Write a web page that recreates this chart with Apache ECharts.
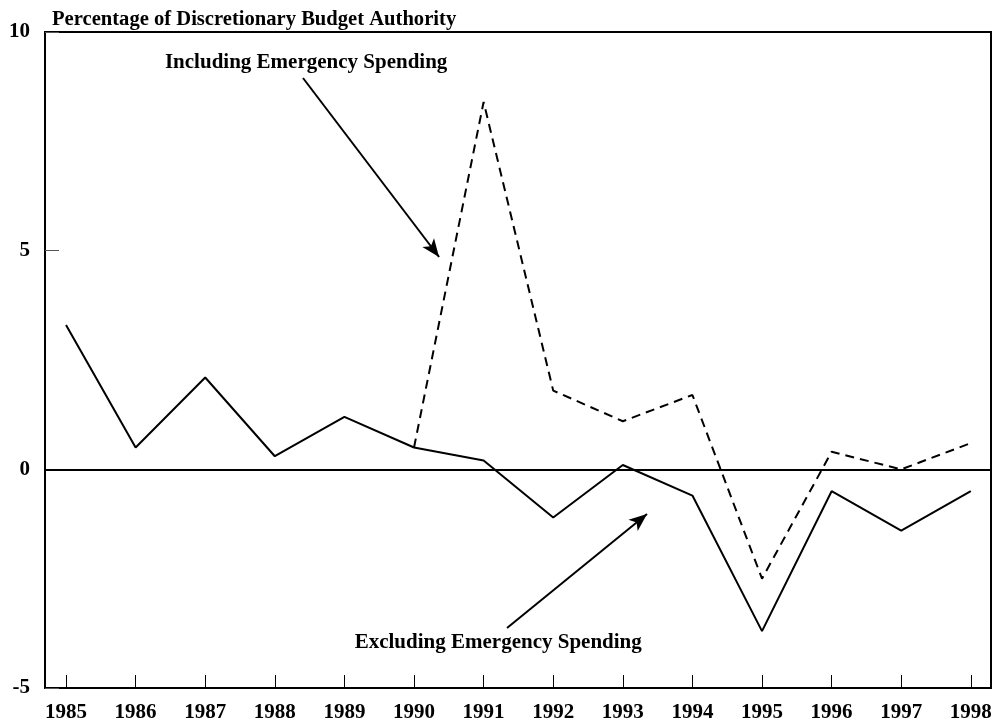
<!DOCTYPE html>
<html>
<head>
<meta charset="utf-8">
<script src="https://cdn.jsdelivr.net/npm/echarts@6/dist/echarts.min.js"></script>
<style>
html,body{margin:0;padding:0;background:#fff;}
#chart{width:997px;height:728px;}
</style>
</head>
<body>
<div id="chart"></div>
<script>
var years = [1985,1986,1987,1988,1989,1990,1991,1992,1993,1994,1995,1996,1997,1998];
var excluding = [3.3,0.5,2.1,0.3,1.2,0.5,0.2,-1.1,0.1,-0.6,-3.7,-0.5,-1.4,-0.5];
var including = [null,null,null,null,null,0.5,8.4,1.8,1.1,1.7,-2.5,0.4,0.0,0.6];
var yTicks = [-5,0,5,10];

var FONT = '"Liberation Serif","Times New Roman",serif';

function pairs(vals){
  var out = [];
  for (var i=0;i<years.length;i++){ if (vals[i] !== null) out.push([years[i], vals[i]]); }
  return out;
}

var chart = echarts.init(document.getElementById('chart'), null, {renderer:'canvas'});
chart.setOption({
  animation:false,
  backgroundColor:'#fff',
  title:{
    text:'Percentage of Discretionary Budget Authority',
    left:47, top:4,
    textStyle:{fontFamily:FONT, fontWeight:'bold', fontSize:20.6, color:'#000'}
  },
  grid:{left:45, right:6, top:32, bottom:40, show:true, borderColor:'#000', borderWidth:2, backgroundColor:'transparent'},
  xAxis:{
    type:'value',
    min:1984.698, max:1998.29,
    axisLine:{show:false, onZero:false},
    splitLine:{show:false},
    axisTick:{show:true, inside:true, length:13, customValues:years, lineStyle:{color:'#000', width:1}},
    axisLabel:{show:true, customValues:years, margin:14, fontFamily:FONT, fontWeight:'bold', fontSize:21, color:'#000',
      formatter:function(v){return String(v);}}
  },
  yAxis:{
    type:'value', min:-5, max:10, interval:5,
    axisLine:{show:false, onZero:false},
    splitLine:{show:false},
    axisTick:{show:true, inside:true, length:14, lineStyle:{color:'#555', width:1}},
    axisLabel:{show:true, margin:15, padding:[6,0,0,0], fontFamily:FONT, fontWeight:'bold', fontSize:21, color:'#000'}
  },
  series:[
    {
      name:'Including Emergency Spending',
      type:'line',
      data:pairs(including),
      symbol:'none',
      silent:true,
      lineStyle:{color:'#000', width:2, type:[9,6]},
      z:2
    },
    {
      name:'Excluding Emergency Spending',
      type:'line',
      data:pairs(excluding),
      symbol:'none',
      silent:true,
      lineStyle:{color:'#000', width:2},
      z:3,
      markLine:{
        silent:true,
        animation:false,
        label:{show:false},
        emphasis:{disabled:true},
        data:[
          [{xAxis:1984.698, yAxis:0, symbol:'none'},{xAxis:1998.29, yAxis:0, symbol:'none'}],
          [{coord:[1988.405,8.948], symbol:'none'},{coord:[1990.36,4.855], symbol:'arrow', symbolSize:[11,18]}],
          [{coord:[1991.336,-3.628], symbol:'none'},{coord:[1993.348,-1.021], symbol:'arrow', symbolSize:[11,18]}]
        ],
        lineStyle:{color:'#000', width:2, type:'solid'},
        itemStyle:{color:'#000'}
      },
      markPoint:{
        silent:true,
        animation:false,
        symbol:'circle', symbolSize:0,
        label:{show:true, position:'inside', fontFamily:FONT, fontWeight:'bold', fontSize:21, color:'#000',
          formatter:function(p){return p.name;}},
        data:[
          {name:'Including Emergency Spending', coord:[1988.45,9.29]},
          {name:'Excluding Emergency Spending', coord:[1991.21,-3.97]}
        ]
      }
    }
  ]
});
</script>
</body>
</html>
